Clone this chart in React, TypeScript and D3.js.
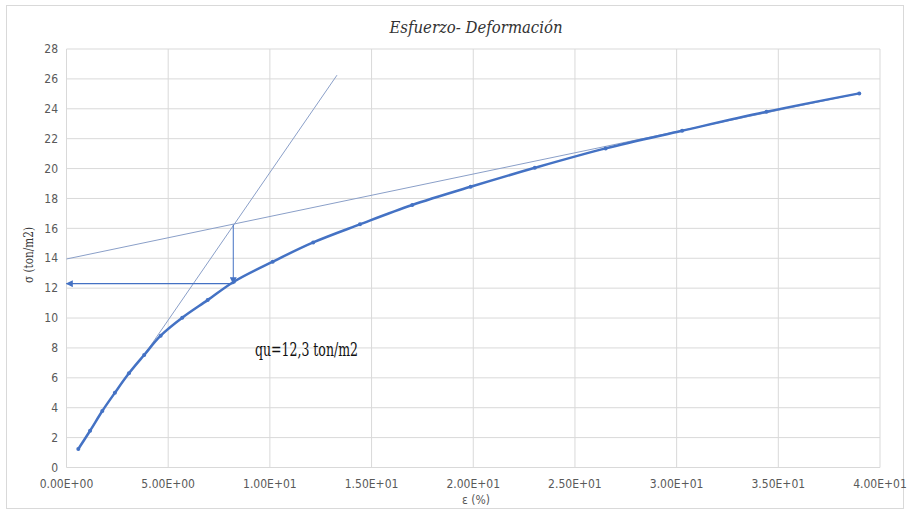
import React from "react";
import * as d3 from "d3";

const strain = [0.58, 1.16, 1.76, 2.38, 3.07, 3.82, 4.63, 5.69, 6.94, 8.23, 10.14, 12.13, 14.43, 17.0, 19.87, 23.03, 26.51, 30.27, 34.42, 38.98];
const stress = [1.24, 2.46, 3.78, 5.0, 6.3, 7.53, 8.82, 10.02, 11.2, 12.43, 13.77, 15.06, 16.27, 17.56, 18.78, 20.05, 21.35, 22.53, 23.8, 25.03];

const xTicks = [0, 5, 10, 15, 20, 25, 30, 35, 40];
const yTicks = [0, 2, 4, 6, 8, 10, 12, 14, 16, 18, 20, 22, 24, 26, 28];

const tangentInitial: [number, number][] = [[3.82, 7.53], [13.3, 26.25]];
const tangentFinal: [number, number][] = [[0, 13.95], [38.98, 25.03]];
const intersection: [number, number] = [8.2, 16.25];
const quValue = 12.3;

const title = "Esfuerzo- Deformación";
const xLabel = "ε (%)";
const yLabel = "σ (ton/m2)";
const annotation = "qu=12,3 ton/m2";

function fmtExp(v: number): string {
  const s = v.toExponential(2).toUpperCase();
  const m = s.match(/^(.*)E([+-])(\d+)$/);
  if (!m) return s;
  return `${m[1]}E${m[2]}${m[3].padStart(2, "0")}`;
}

export default function App() {
  const W = 907;
  const H = 512;
  const x = d3.scaleLinear().domain([0, 40]).range([66.5, 880]);
  const y = d3.scaleLinear().domain([0, 28]).range([467.5, 49]);

  const pts: [number, number][] = strain.map((s, i) => [s, stress[i]]);
  const line = d3
    .line<[number, number]>()
    .x((d) => x(d[0]))
    .y((d) => y(d[1]))
    .curve(d3.curveCatmullRom.alpha(0.5));
  const straight = d3
    .line<[number, number]>()
    .x((d) => x(d[0]))
    .y((d) => y(d[1]));

  const axisFont = "'Liberation Sans Narrow', 'DejaVu Sans Condensed', 'Liberation Sans', sans-serif";
  const serif = "'DejaVu Serif Condensed', 'DejaVu Serif', serif";
  const blue = "#4472C4";
  const thin = "#8A9FC8";

  return (
    <div style={{ position: "absolute", left: 0, top: 0 }}>
      <svg width={W} height={H} style={{ display: "block", background: "#fff" }}>
        <defs>
          <marker id="arr" viewBox="0 0 10 10" refX="9" refY="5" markerWidth="7" markerHeight="7" orient="auto-start-reverse" markerUnits="userSpaceOnUse">
            <path d="M0,0 L10,5 L0,10 z" fill={blue} />
          </marker>
        </defs>
        <rect x={6.5} y={5.5} width={897} height={503} fill="#fff" stroke="#d9d9d9" />
        {yTicks.map((t) => (
          <line key={"gy" + t} x1={x(0)} x2={x(40)} y1={y(t)} y2={y(t)} stroke="#d9d9d9" strokeWidth={1} />
        ))}
        {xTicks.map((t) => (
          <line key={"gx" + t} x1={x(t)} x2={x(t)} y1={y(0)} y2={y(28)} stroke="#d9d9d9" strokeWidth={1} />
        ))}
        {yTicks.map((t) => (
          <text key={"ty" + t} x={58} y={y(t)} dy="0.35em" textAnchor="end" style={{ fontFamily: axisFont, fontSize: 12 }} fill="#595959">
            {t}
          </text>
        ))}
        {xTicks.map((t) => (
          <text key={"tx" + t} x={x(t)} y={488} textAnchor="middle" style={{ fontFamily: axisFont, fontSize: 12 }} fill="#595959">
            {fmtExp(t)}
          </text>
        ))}
        <text x={476} y={33} textAnchor="middle" style={{ fontFamily: serif, fontStyle: "italic", fontSize: 16 }} fill="#333" textLength={173} lengthAdjust="spacingAndGlyphs">
          {title}
        </text>
        <text x={476} y={504} textAnchor="middle" style={{ fontFamily: axisFont, fontSize: 12 }} fill="#595959">
          {xLabel}
        </text>
        <text transform={`translate(33,255) rotate(-90)`} textAnchor="middle" style={{ fontFamily: serif, fontSize: 12 }} fill="#333" textLength={56} lengthAdjust="spacingAndGlyphs">
          {yLabel}
        </text>
        <path d={straight(tangentInitial) || ""} fill="none" stroke={thin} strokeWidth={1} />
        <path d={straight(tangentFinal) || ""} fill="none" stroke={thin} strokeWidth={1} />
        <path d={line(pts) || ""} fill="none" stroke={blue} strokeWidth={2.5} strokeLinecap="round" />
        {pts.map((p, i) => (
          <circle key={"p" + i} cx={x(p[0])} cy={y(p[1])} r={2} fill={blue} />
        ))}
        <line x1={x(intersection[0])} y1={y(intersection[1])} x2={x(intersection[0])} y2={y(quValue)} stroke={blue} strokeWidth={1} markerEnd="url(#arr)" />
        <line x1={x(intersection[0])} y1={y(quValue)} x2={x(0)} y2={y(quValue)} stroke={blue} strokeWidth={1.2} markerEnd="url(#arr)" />
        <text x={255} y={356} style={{ fontFamily: serif, fontSize: 18 }} fill="#111" textLength={103} lengthAdjust="spacingAndGlyphs">
          {annotation}
        </text>
      </svg>
    </div>
  );
}
